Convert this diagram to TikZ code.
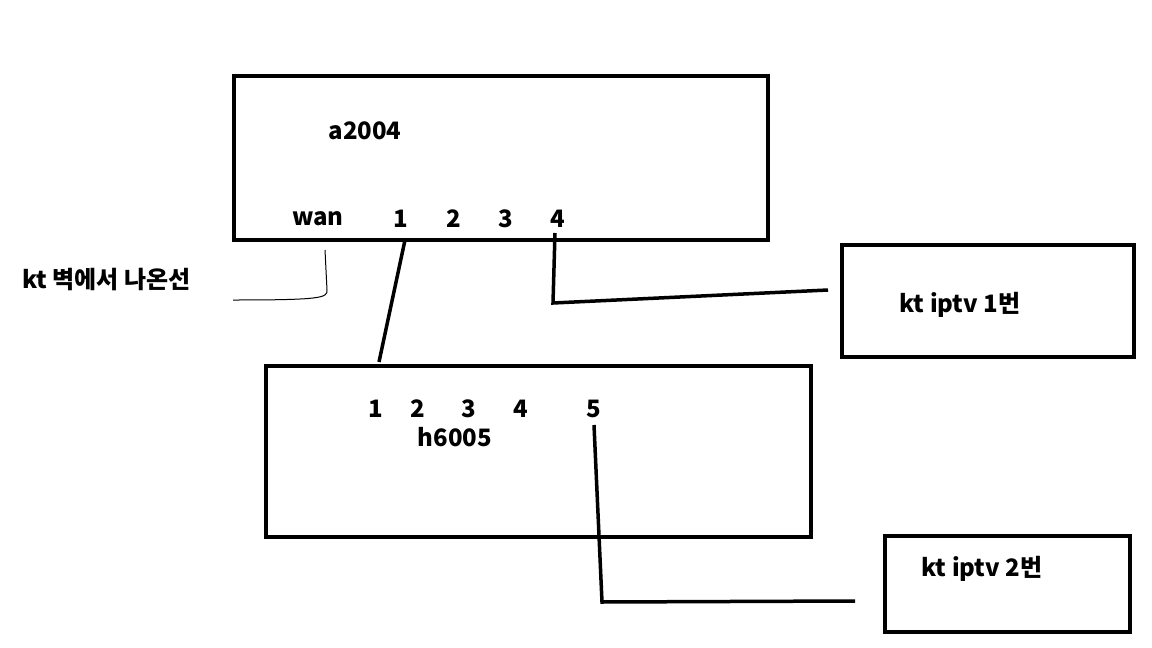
\documentclass[tikz,border=0pt]{standalone}
\usepackage{fontspec}
\newfontfamily\kr{Noto Sans CJK KR}
\begin{document}
\begin{tikzpicture}[x=1pt,y=-1pt,
  box/.style={draw,line width=3.5pt},
  lbl/.style={font=\kr\bfseries\fontsize{24}{28}\selectfont,inner sep=0pt},
  wire/.style={line width=3.5pt}]
\useasboundingbox (0,0) rectangle (1152,648);
\node[box,minimum width=534pt,minimum height=164pt,anchor=north west] (a) at (232,74) {};
\node[box,minimum width=292pt,minimum height=112pt,anchor=north west] (t1) at (840,243) {};
\node[box,minimum width=545pt,minimum height=171pt,anchor=north west] (h) at (264,364) {};
\node[box,minimum width=245pt,minimum height=96pt,anchor=north west] (t2) at (883,534) {};
\node[lbl] (an) at (365,131) {a2004};
\node[lbl] (wan) at (318,219) {wan};
\node[lbl] (p1) at (401,219) {1};
\node[lbl] (p2) at (454,219) {2};
\node[lbl] (p3) at (506,219) {3};
\node[lbl] (p4) at (558,219) {4};
\node[lbl,anchor=west] (kt) at (22,280) {kt 벽에서 나온선};
\node[lbl] (t1l) at (960,305) {kt iptv 1번};
\node[lbl] (h1) at (376,409) {1};
\node[lbl] (h2) at (418,409) {2};
\node[lbl] (h3) at (469,409) {3};
\node[lbl] (h4) at (521,409) {4};
\node[lbl] (h5) at (594,409) {5};
\node[lbl] (hn) at (455,437) {h6005};
\node[lbl] (t2l) at (982,569) {kt iptv 2번};
\coordinate (c1) at (553,303);
\coordinate (c1e) at (828,290);
\coordinate (c2) at (602,602);
\coordinate (c2e) at (855,601);
\coordinate (w0) at (325,250);
\coordinate (w1) at (233,300);
\draw[wire] (405,240) -- (379,362);
\draw[wire] (555,233) -- (c1) -- (c1e);
\draw[wire] (594,425) -- (c2) -- (c2e);
\draw[line width=1pt] (w0) -- (327,290) .. controls (328,298) and (320,300) .. (w1);
\end{tikzpicture}
\end{document}
